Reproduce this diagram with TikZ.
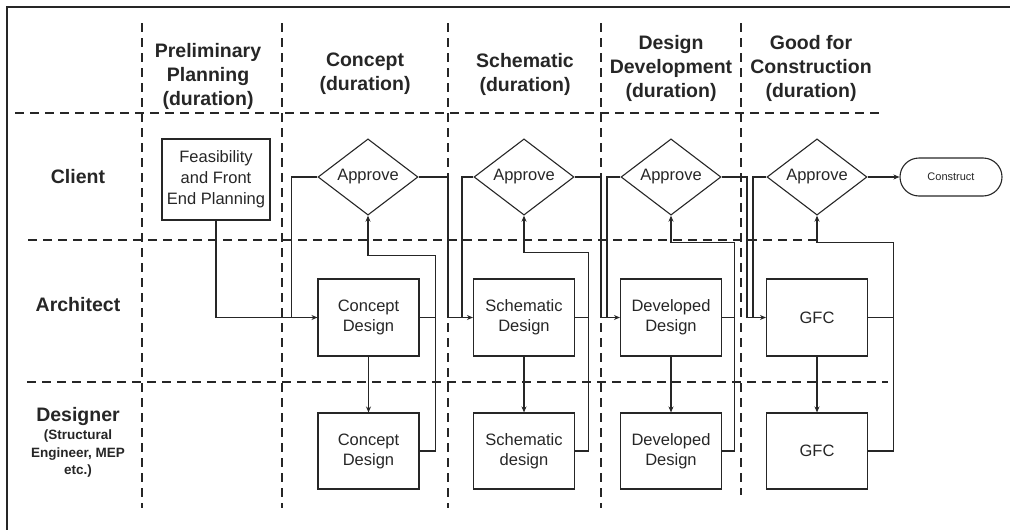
\documentclass[tikz,border=0pt]{standalone}
\usepackage{fontspec}
\setmainfont{Liberation Sans}
\usetikzlibrary{arrows.meta, positioning, shapes.geometric}

\begin{document}
\begin{tikzpicture}[
    x=1pt, y=-1pt,
    every node/.style={text=black!85, font=\fontsize{16.5}{20}\selectfont},
    header/.style={align=center, font=\bfseries\fontsize{19.5}{24}\selectfont},
    lane/.style={align=center, font=\bfseries\fontsize{19.5}{24}\selectfont},
    lanenote/.style={align=center, font=\bfseries\fontsize{13.5}{17.5}\selectfont},
    task/.style={rectangle, draw=black!85, line width=1.1pt, minimum width=101pt, minimum height=77pt, align=center, inner sep=1pt},
    decision/.style={diamond, draw=black!85, line width=1.1pt, minimum width=100pt, minimum height=76pt, inner sep=0pt},
    terminal/.style={rectangle, rounded corners=19pt, draw=black!85, line width=1.1pt, minimum width=102pt, minimum height=38pt, font=\fontsize{11}{13}\selectfont},
    divider/.style={draw=black!85, line width=1.1pt, dash pattern=on 9pt off 6pt},
    arrow/.style={draw=black!85, -{Stealth[length=6pt, width=5pt]}, line width=1.1pt},
    link/.style={draw=black!85, line width=1.1pt}
]
\useasboundingbox (0,0) rectangle (1010,530);

% Frame
\draw[line width=2pt, black!85] (7,530) -- (7,7) -- (1010,7);

% Lanes and phases
\draw[divider] (15,113) -- (882,113);
\draw[divider] (28,240) -- (817,240);
\draw[divider] (27,382) -- (888,382);
\foreach \x in {142, 282, 448, 601}
    \draw[divider] (\x,23) -- (\x,508);
\draw[divider] (741,23) -- (741,495);

% Phase headers
\node[header] (hprelim) at (208,76) {Preliminary\\Planning\\(duration)};
\node[header] (hconcept) at (365,74) {Concept\\(duration)};
\node[header] (hschem) at (525,74) {Schematic\\(duration)};
\node[header] (hdev) at (671,68) {Design\\Development\\(duration)};
\node[header] (hgfc) at (811,68) {Good for\\Construction\\(duration)};

% Lane labels
\node[lane] (lclient) at (78,177) {Client};
\node[lane] (larch) at (78,305) {Architect};
\node[lane] (ldesigner) at (78,416) {Designer};
\node[lanenote] (lnote) at (78,454) {(Structural\\Engineer, MEP\\etc.)};

% Client
\node[task, minimum width=108pt, minimum height=81pt, font=\fontsize{16.5}{21}\selectfont] (feas) at (216,179.5) {Feasibility\\and Front\\End Planning};
\node[decision] (app1) at (368,177) {Approve};
\node[decision] (app2) at (524,177) {Approve};
\node[decision] (app3) at (671,177) {Approve};
\node[decision] (app4) at (817,177) {Approve};
\node[terminal] (construct) at (951,177) {Construct};

% Architect
\node[task] (arch1) at (368.5,317.5) {Concept\\Design};
\node[task] (arch2) at (524,317.5) {Schematic\\Design};
\node[task] (arch3) at (671,317.5) {Developed\\Design};
\node[task] (arch4) at (817,317.5) {GFC};

% Designer
\node[task, minimum height=76pt] (des1) at (368.5,451) {Concept\\Design};
\node[task, minimum height=76pt] (des2) at (524,451) {Schematic\\design};
\node[task, minimum height=76pt] (des3) at (671,451) {Developed\\Design};
\node[task, minimum height=76pt] (des4) at (817,451) {GFC};

% Concept
\draw[arrow] (feas.south) |- (arch1.west);
\draw[link] (app1.west) -| ([xshift=-26pt]arch1.west);
\draw[arrow] (arch1) -- (des1);
\draw[link] (arch1.east) -- ++(16,0);
\draw[arrow] (des1.east) -- ++(16,0) |- ([yshift=-40pt]app1.south) -- (app1.south);

% Schematic
\draw[arrow] (app1.east) -| ([xshift=-25pt]arch2.west) -- (arch2.west);
\draw[link] (app2.west) -| ([xshift=-11pt]arch2.west);
\draw[arrow] (arch2) -- (des2);
\draw[link] (arch2.east) -- ++(13,0);
\draw[arrow] (des2.east) -- ++(13,0) |- ([yshift=-37pt]app2.south) -- (app2.south);

% Design development
\draw[arrow] (app2.east) -| ([xshift=-19pt]arch3.west) -- (arch3.west);
\draw[link] (app3.west) -| ([xshift=-13pt]arch3.west);
\draw[arrow] (arch3) -- (des3);
\draw[link] (arch3.east) -- ++(12,0);
\draw[arrow] (des3.east) -- ++(12,0) |- ([yshift=-27pt]app3.south) -- (app3.south);

% Good for construction
\draw[arrow] (app3.east) -| ([xshift=-19pt]arch4.west) -- (arch4.west);
\draw[link] (app4.west) -| ([xshift=-13pt]arch4.west);
\draw[arrow] (arch4) -- (des4);
\draw[link] (arch4.east) -- ++(25,0);
\draw[arrow] (des4.east) -- ++(25,0) |- ([yshift=-27pt]app4.south) -- (app4.south);
\draw[arrow] (app4) -- (construct);

\end{tikzpicture}
\end{document}
